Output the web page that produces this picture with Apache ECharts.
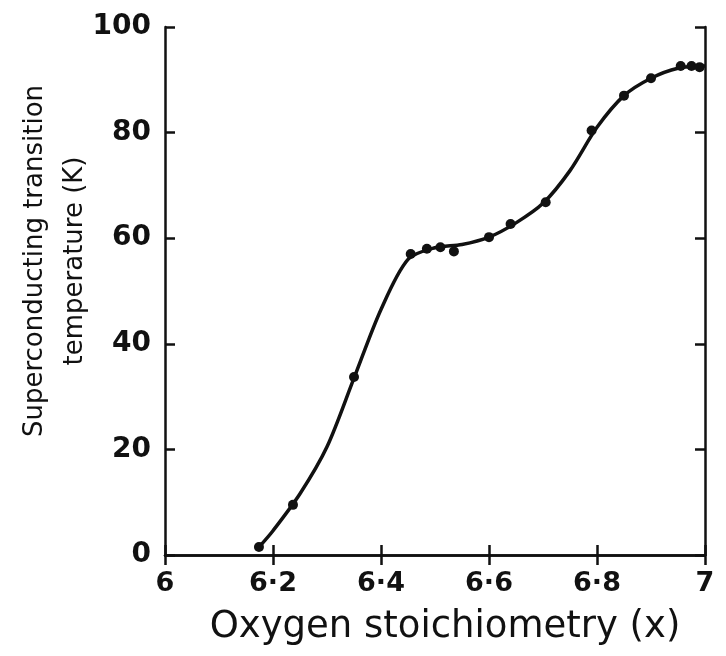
<!DOCTYPE html>
<html>
<head>
<meta charset="utf-8">
<script src="https://cdn.jsdelivr.net/npm/echarts@6/dist/echarts.min.js"></script>
<style>html,body{margin:0;padding:0;background:#fff;}#c{width:726px;height:656px;}</style>
</head>
<body>
<div id="c"></div>
<script>
// measured points
const pointX = [6.174, 6.237, 6.35, 6.455, 6.485, 6.51, 6.535, 6.60, 6.64, 6.705, 6.79, 6.85, 6.90, 6.955, 6.975, 6.99];
const pointY = [1.5, 9.5, 33.7, 57.0, 58.0, 58.3, 57.5, 60.2, 62.7, 66.8, 80.4, 87.0, 90.3, 92.6, 92.6, 92.4];
// smooth guide curve
const curveX = [6.174, 6.20, 6.25, 6.30, 6.35, 6.40, 6.45, 6.50, 6.55, 6.60, 6.65, 6.70, 6.75, 6.80, 6.85, 6.90, 6.95, 7.0];
const curveY = [1.5, 4.6, 11.6, 20.5, 33.5, 46.5, 56.0, 58.2, 58.8, 60.2, 62.9, 66.6, 72.8, 81.0, 87.0, 90.3, 92.2, 92.6];
const xTickLabels = {'6':'6', '6.2':'6·2', '6.4':'6·4', '6.6':'6·6', '6.8':'6·8', '7':'7'};
const yTickLabels = ['0', '20', '40', '60', '80', '100'];

const pts = pointX.map((x, i) => [x, pointY[i]]);
const curve = curveX.map((x, i) => [x, curveY[i]]);

const font = 'DejaVu Sans';
const axisLine = {show: true, lineStyle: {color: '#111', width: 2.5}};
const tick = {show: true, inside: true, length: 10, lineStyle: {color: '#111', width: 2.5}};
const chart = echarts.init(document.getElementById('c'));
chart.setOption({
  animation: false,
  backgroundColor: '#fff',
  grid: {left: 165, right: 21, top: 27, bottom: 101, containLabel: false, outerBoundsMode: 'none'},
  xAxis: [{
    type: 'value', min: 6, max: 7, interval: 0.2, position: 'bottom',
    axisLine: axisLine, axisTick: tick, splitLine: {show: false},
    axisLabel: {margin: 15, color: '#111', fontFamily: font, fontWeight: 'bold', fontSize: 27,
      formatter: v => xTickLabels[String(+v.toFixed(1))] || ''},
    name: 'Oxygen stoichiometry (x)', nameLocation: 'middle', nameGap: 54, nameMoveOverlap: false,
    nameTextStyle: {color: '#111', fontFamily: font, fontSize: 37, padding: [0, 0, 0, 20]}
  }, {
    type: 'value', min: 6, max: 7, interval: 0.2, position: 'top',
    axisLine: axisLine, axisTick: tick, splitLine: {show: false}, axisLabel: {show: false}
  }],
  yAxis: [{
    type: 'value', min: 0, max: 100, interval: 20, position: 'left',
    axisLine: axisLine, axisTick: tick, splitLine: {show: false},
    axisLabel: {margin: 14, color: '#111', fontFamily: font, fontWeight: 'bold', fontSize: 28,
      formatter: v => yTickLabels[Math.round(v / 20)]},
    name: 'Superconducting transition\ntemperature (K)', nameLocation: 'middle', nameGap: 70, nameMoveOverlap: false,
    nameTextStyle: {color: '#111', fontFamily: font, fontSize: 26, lineHeight: 40, padding: [0, 0, 0, 60]}
  }, {
    type: 'value', min: 0, max: 100, interval: 20, position: 'right',
    axisLine: axisLine, axisTick: tick, splitLine: {show: false}, axisLabel: {show: false}
  }],
  series: [{
    type: 'line', data: curve, smooth: 0.3, showSymbol: false, symbol: 'none',
    lineStyle: {color: '#111', width: 3.5}, z: 2
  }, {
    type: 'scatter', data: pts, symbol: 'circle', symbolSize: 10,
    itemStyle: {color: '#111', opacity: 1}, z: 3
  }]
});
</script>
</body>
</html>
